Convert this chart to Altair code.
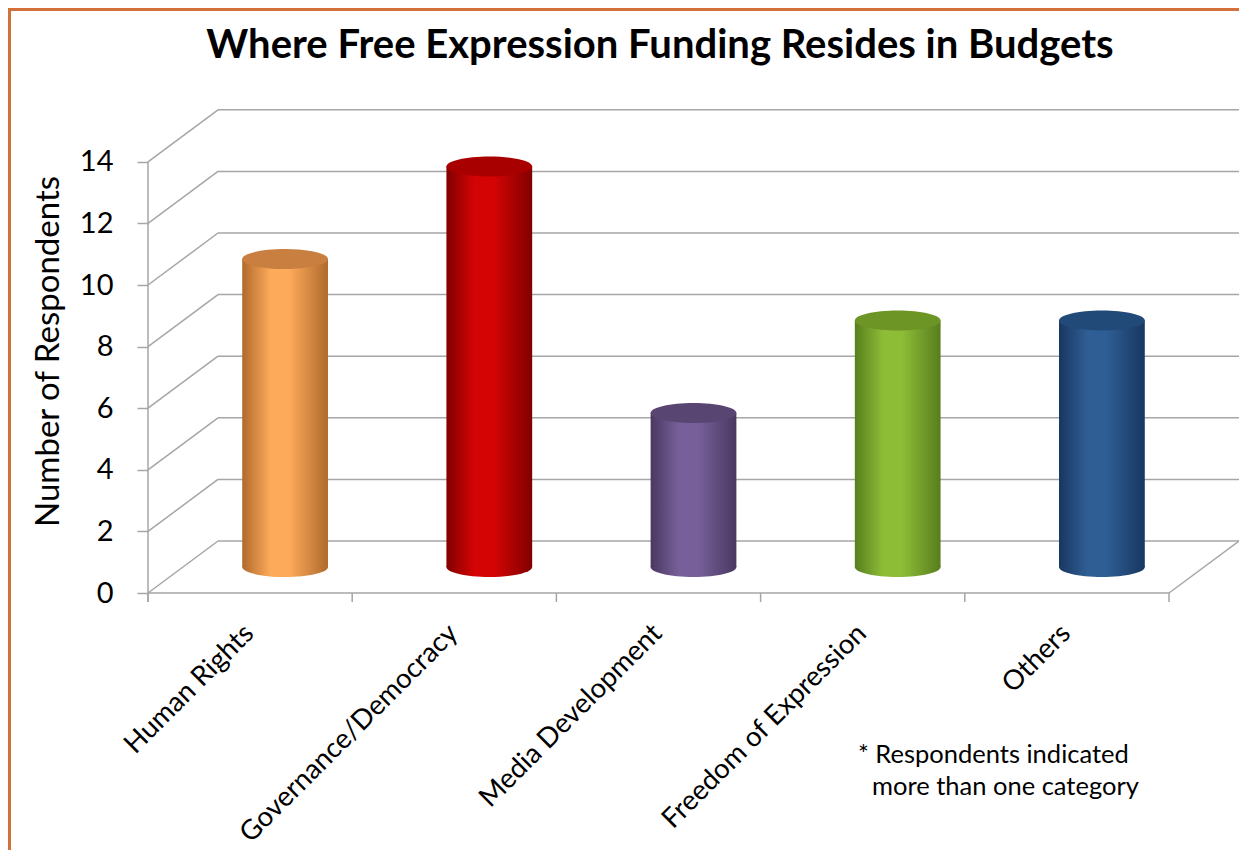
import json
import altair as alt
import pandas as pd

# ---------------- data ----------------
categories = ["Human Rights", "Governance/Democracy", "Media Development",
              "Freedom of Expression", "Others"]
values = [10, 13, 5, 8, 8]
light_colors = ["#FDAA5A", "#D40404", "#776099", "#8DBD37", "#2F5E94"]
dark_colors = ["#B06A2C", "#820000", "#4A3862", "#587E1E", "#183760"]
top_colors = ["#C97F40", "#A80000", "#584571", "#6C9526", "#224A78"]
y_ticks = [0, 2, 4, 6, 8, 10, 12, 14]

title_text = "Where Free Expression Funding Resides in Budgets"
y_title = "Number of Respondents"
note_line1 = "* Respondents indicated"
note_line2 = "more than one category"

# ---------------- layout constants ----------------
FONT = "Lato"
GRID = "#A6A6A6"
BORDER = "#D4703A"
PLOT_W, PLOT_H = 1091, 484
N = len(categories)
DEPTH_PX_X, DEPTH_PX_Y = 70, 52
PX_X = (PLOT_W - DEPTH_PX_X) / N
PX_Y = 30.8
DX = DEPTH_PX_X / PX_X
DY = DEPTH_PX_Y / PX_Y
X_MAX = N + DX
Y_MAX = PLOT_H / PX_Y
TICK = 9 / PX_Y
BAR_HALF = 0.21
ELL_SIZE = (2 * BAR_HALF * PX_X) ** 2
RY = 0.233
K = 0.5523
ELLIPSE = (f"M -1 0 C -1 {-RY*K:.4f} {-K} {-RY} 0 {-RY} "
           f"C {K} {-RY} 1 {-RY*K:.4f} 1 0 "
           f"C 1 {RY*K:.4f} {K} {RY} 0 {RY} "
           f"C {-K} {RY} -1 {RY*K:.4f} -1 0 Z")

xs = alt.Scale(domain=[0, X_MAX], nice=False, zero=False)
ys = alt.Scale(domain=[0, Y_MAX], nice=False, zero=False)

label_expr = json.dumps(categories) + "[floor(datum.value)]"
x_axis = alt.Axis(values=[i + 0.5 for i in range(N)], labelExpr=label_expr,
                  labelAngle=315, labelAlign="right", labelBaseline="top",
                  labelFont=FONT, labelFontSize=27.5, labelColor="black",
                  labelPadding=26, labelOffset=-11, labelLimit=0,
                  labelFlush=False, labelOverlap=False,
                  ticks=False, domain=False, grid=False, title=None)
y_axis = alt.Axis(values=y_ticks, domain=False, grid=False, ticks=True,
                  tickSize=11, tickColor=GRID, tickWidth=1.5,
                  labelFont=FONT, labelFontSize=29, labelColor="black",
                  labelPadding=24, title=y_title, titleFont=FONT,
                  titleFontSize=33, titleFontWeight="normal",
                  titleColor="black", titlePadding=14)


def X(f):
    return alt.X(f, type="quantitative", scale=xs, axis=x_axis)


def Y(f):
    return alt.Y(f, type="quantitative", scale=ys, axis=y_axis)


# ---------------- wall / floor rules ----------------
rows = []
for v in y_ticks:
    rows.append(dict(x=0, x2=DX, y=v, y2=v + DY))          # side wall diagonals
    rows.append(dict(x=DX, x2=N + DX, y=v + DY, y2=v + DY))  # back wall grid
rows.append(dict(x=N, x2=N + DX, y=0, y2=DY))                # right floor edge
rows.append(dict(x=0, x2=N, y=0, y2=0))                      # front floor edge
rows.append(dict(x=0, x2=0, y=-TICK, y2=y_ticks[-1]))        # front value axis
for i in range(N + 1):
    rows.append(dict(x=i, x2=i, y=-TICK, y2=0))              # category ticks
rules_df = pd.DataFrame(rows)

rules = alt.Chart(rules_df).mark_rule(color=GRID, strokeWidth=1.5).encode(
    x=X("x"), x2="x2:Q", y=Y("y"), y2="y2:Q")

# ---------------- cylinders ----------------
bars_df = pd.DataFrame({"category": categories, "value": values})
bars_df["c"] = [i + 0.5 + DX / 2 for i in range(N)]
bars_df["left"] = bars_df["c"] - BAR_HALF
bars_df["right"] = bars_df["c"] + BAR_HALF
bars_df["base"] = DY / 2
bars_df["top"] = bars_df["value"] + DY / 2

bar_layers = []
for i, cat in enumerate(categories):
    grad = alt.Gradient(
        gradient="linear", x1=0, x2=1, y1=0, y2=0,
        stops=[alt.GradientStop(color=dark_colors[i], offset=0),
               alt.GradientStop(color=light_colors[i], offset=0.33),
               alt.GradientStop(color=light_colors[i], offset=0.55),
               alt.GradientStop(color=dark_colors[i], offset=1)])
    base = alt.Chart(bars_df).transform_filter(alt.datum.category == cat)
    body = base.mark_rect(fill=grad, strokeWidth=0).encode(
        x=X("left"), x2="right:Q", y=Y("base"), y2="top:Q")
    bottom = base.mark_point(shape=ELLIPSE, filled=True, fill=grad,
                             size=ELL_SIZE, opacity=1, strokeWidth=0).encode(
        x=X("c"), y=Y("base"))
    bar_layers += [body, bottom]

tops = alt.Chart(bars_df).mark_point(shape=ELLIPSE, filled=True, size=ELL_SIZE,
                                      opacity=1, strokeWidth=0).encode(
    x=X("c"), y=Y("top"),
    color=alt.Color("category:N", scale=alt.Scale(domain=categories, range=top_colors),
                    legend=None))

# ---------------- decorations: frame, title, note ----------------
one = pd.DataFrame({"k": [0]})
frame_left = alt.Chart(one).mark_rule(color=BORDER, strokeWidth=3).encode(
    x=alt.value(-138.5), y=alt.value(-100), y2=alt.value(PLOT_H + 260))
frame_top = alt.Chart(one).mark_rule(color=BORDER, strokeWidth=3).encode(
    y=alt.value(-99.5), x=alt.value(-140), x2=alt.value(PLOT_W + 20))

title = alt.Chart(pd.DataFrame({"t": [title_text]})).mark_text(
    font=FONT, fontSize=40, fontWeight="bold", color="black",
    align="center", baseline="alphabetic").encode(
    text="t:N", x=alt.value(512), y=alt.value(-51))

note1 = alt.Chart(pd.DataFrame({"t": [note_line1]})).mark_text(
    font=FONT, fontSize=25.5, color="black", align="left",
    baseline="alphabetic").encode(text="t:N", x=alt.value(710), y=alt.value(654))
note2 = alt.Chart(pd.DataFrame({"t": [note_line2]})).mark_text(
    font=FONT, fontSize=25.5, color="black", align="left",
    baseline="alphabetic").encode(text="t:N", x=alt.value(724), y=alt.value(686))

chart = alt.layer(rules, *bar_layers, tops, frame_left, frame_top, title, note1, note2).properties(
    width=PLOT_W, height=PLOT_H,
    padding={"left": 140, "top": 101, "right": 0, "bottom": 257},
    autosize=alt.AutoSizeParams(type="none"),
    background="white",
).configure_view(stroke=None)

chart.save("out.html", embed_options={"renderer": "svg", "actions": False})
